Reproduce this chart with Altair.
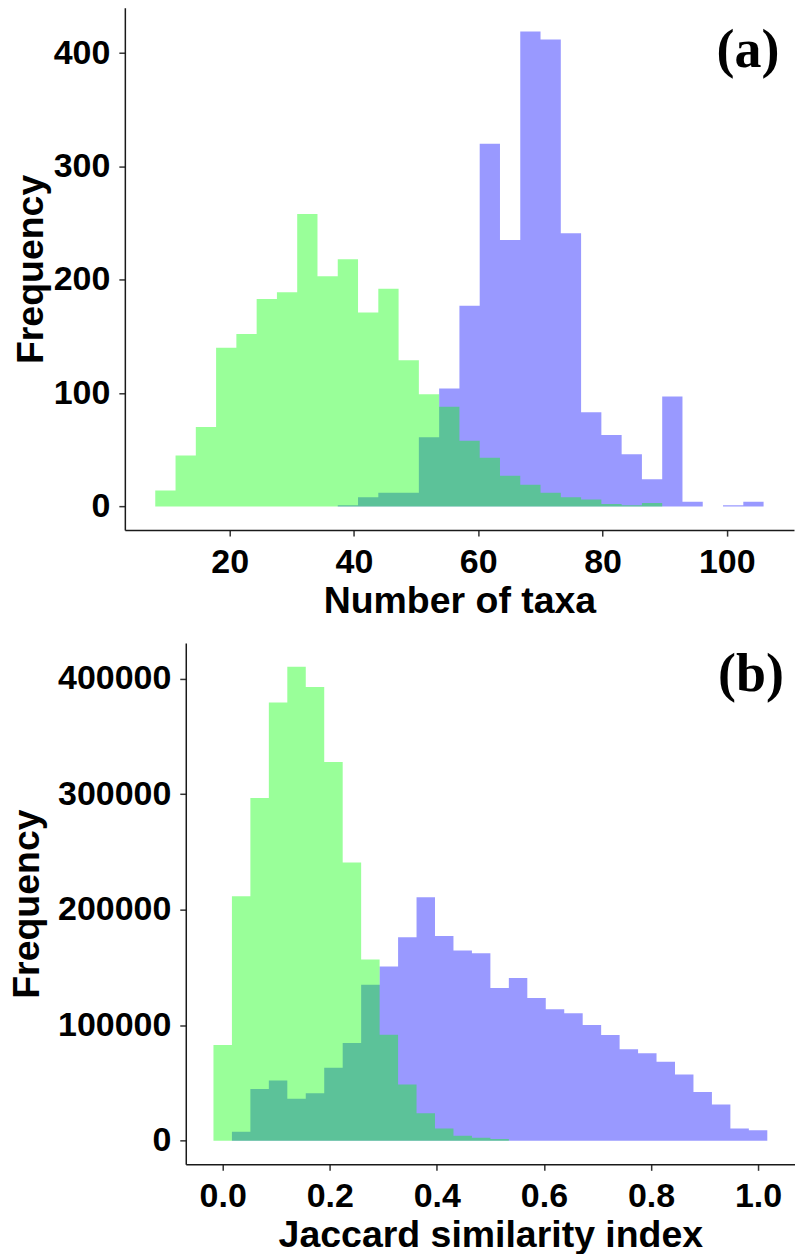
import altair as alt
import pandas as pd

# ---------------- data ----------------
# Panel (a): Number of taxa, 30 bins
taxa_bin_start = 8.03
taxa_bin_width = 3.263
taxa_green = [14, 45, 70, 140, 152, 183, 189, 258, 203, 218, 171, 192, 129, 99, 88,
              58, 43, 27, 19, 12, 8, 6, 2, 1, 3, 0, 0, 0, 0, 0]
taxa_blue = [0, 0, 0, 0, 0, 0, 0, 0, 0, 1, 8, 12, 12, 61, 104,
             177, 320, 235, 419, 412, 241, 83, 63, 46, 24, 97, 4, 0, 1, 4]
taxa_ticks = [20, 40, 60, 80, 100]
taxa_yticks = [0, 100, 200, 300, 400]

# Panel (b): Jaccard similarity index, 30 bins
jac_bin_start = -1 / 58
jac_bin_width = 1 / 29
jac_green = [82800, 211700, 296600, 379400, 410400, 392800, 327900, 240900, 156900, 91700,
             48500, 23800, 10400, 4200, 2400, 1500, 0, 0, 0, 0,
             0, 0, 0, 0, 0, 0, 0, 0, 0, 0]
jac_blue = [0, 7700, 44700, 52100, 36300, 41100, 63100, 84600, 134900, 150700,
            176000, 210800, 177200, 164700, 162300, 132200, 140900, 123600, 113800, 110200,
            100100, 91400, 79200, 75600, 68200, 57200, 42000, 31300, 10400, 8900]
jac_ticks = [0.0, 0.2, 0.4, 0.6, 0.8, 1.0]
jac_yticks = [0, 100000, 200000, 300000, 400000]


def step_df(start, width, counts):
    # bin left edges with their counts, plus the right edge of the last bin
    xs = [start + i * width for i in range(len(counts) + 1)]
    ys = list(counts) + [counts[-1]]
    return pd.DataFrame({"x": xs, "count": ys})


def expand(lo, hi, f=0.05):
    d = (hi - lo) * f
    return [lo - d, hi + d]


SANS = "Liberation Sans"
SERIF = "Liberation Serif"


def panel(start, width, green, blue, xticks, yticks, xtitle, tag, w, h,
          xfmt, yfmt, tag_x, tag_y, inset=0, ytitle_pad=3):
    n = len(green)
    xdom = expand(start, start + n * width)
    ydom = expand(0, max(max(green), max(blue)))
    xs = alt.Scale(domain=xdom, nice=False, zero=False, range=[inset, w])
    ys = alt.Scale(domain=ydom, nice=False, zero=False)
    xaxis = alt.Axis(values=xticks, format=xfmt, title=xtitle)
    yaxis = alt.Axis(values=yticks, format=yfmt, title="Frequency", offset=-inset,
                     titlePadding=ytitle_pad)

    def layer(counts, color):
        return alt.Chart(step_df(start, width, counts)).mark_area(
            color=color, opacity=0.4, interpolate="step-after"
        ).encode(
            x=alt.X("x:Q", scale=xs, axis=xaxis),
            y=alt.Y("count:Q", scale=ys, axis=yaxis),
            y2=alt.datum(0),
        )

    label = alt.Chart(pd.DataFrame({"t": [tag]})).mark_text(
        font=SERIF, fontWeight="bold", fontSize=54, color="black",
        align="center", baseline="alphabetic"
    ).encode(text="t:N", x=alt.value(tag_x), y=alt.value(tag_y))

    return alt.layer(layer(blue, "#0000FF"), layer(green, "#00FF00"), label).properties(
        width=w, height=h
    )


pa = panel(taxa_bin_start, taxa_bin_width, taxa_green, taxa_blue, taxa_ticks, taxa_yticks,
           "Number of taxa", "(a)", 670, 523, "d", "d", 624, 59)
# panel (b)'s plot area starts 61 px further right than panel (a)'s
pb = panel(jac_bin_start, jac_bin_width, jac_green, jac_blue, jac_ticks, jac_yticks,
           "Jaccard similarity index", "(b)", 671, 522, ".1f", "d", 627, 48,
           inset=61, ytitle_pad=11)

chart = alt.vconcat(pa, pb, spacing=23).properties(
    padding={"left": 8, "top": 7, "right": 0, "bottom": 0},
    background="white",
).configure_view(stroke=None).configure_axis(
    grid=False,
    domainColor="#1a1a1a",
    domainWidth=1.5,
    tickColor="#333333",
    tickWidth=1.5,
    tickSize=6,
    labelFont=SANS,
    labelFontWeight="bold",
    labelFontSize=34,
    labelColor="#000000",
    labelPadding=9,
    titleFont=SANS,
    titleFontWeight="bold",
    titleFontSize=37.5,
    titleColor="#000000",
    titlePadding=3,
)

chart.save("out.html", embed_options={"renderer": "svg", "actions": False})
